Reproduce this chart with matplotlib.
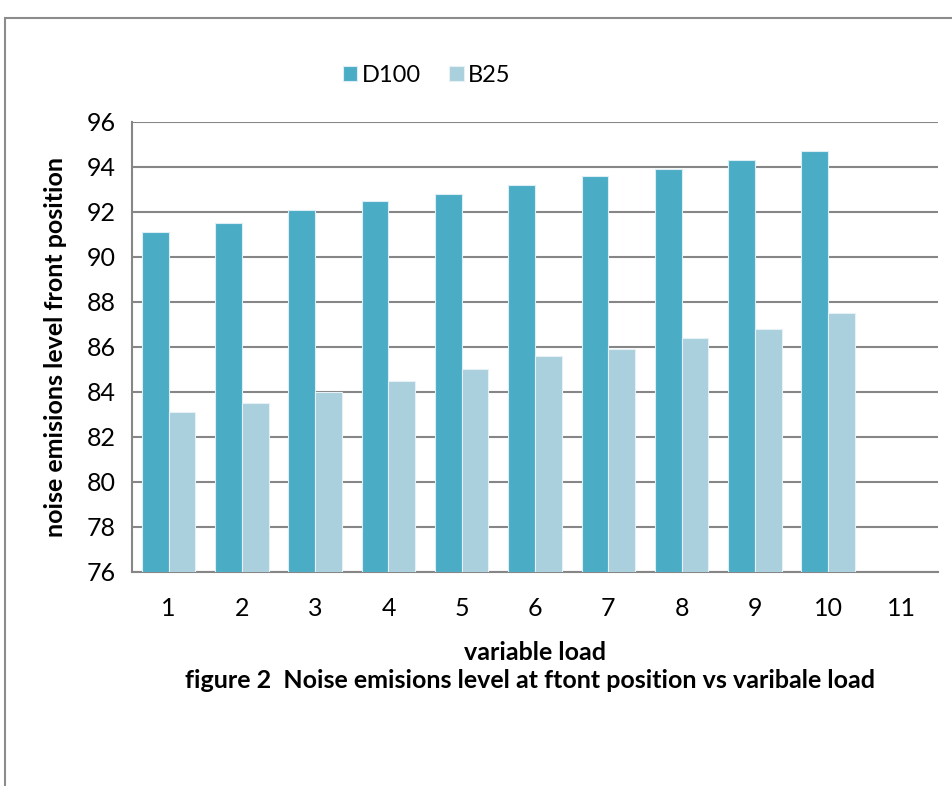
import numpy as np
import matplotlib
matplotlib.use("Agg")
from matplotlib import pylab as plt
from matplotlib.patches import Rectangle

plt.rcParams['font.family'] = ['Lato', 'DejaVu Sans']

loads = [1, 2, 3, 4, 5, 6, 7, 8, 9, 10, 11]
d100 = [91.1, 91.5, 92.1, 92.5, 92.8, 93.2, 93.6, 93.9, 94.3, 94.7]
b25 = [83.1, 83.5, 84.0, 84.5, 85.0, 85.6, 85.9, 86.4, 86.8, 87.5]
yticks = [76, 78, 80, 82, 84, 86, 88, 90, 92, 94, 96]

fig = plt.figure(figsize=(9.52, 7.86), dpi=100)
ax = fig.add_axes([0.1387, 0.2723, 0.8466, 0.5725])

# outer chart frame (cut off on right / bottom like the screenshot)
fig.patches.append(Rectangle((5/952, -0.1), 1.2, 1 - 18/786 + 0.1, transform=fig.transFigure,
                             fill=False, edgecolor='#8c8c8c', linewidth=1.5))

w = 0.365
x = np.arange(len(d100))
base = 76
ax.bar(x - w/2, np.array(d100) - base, w, bottom=base, color='#4bacc6', edgecolor='#dcedf3',
       linewidth=0.8, label='D100', zorder=3)
ax.bar(x + w/2, np.array(b25) - base, w, bottom=base, color='#aacfdd', edgecolor='#e6f1f5',
       linewidth=0.8, label='B25', zorder=3)

ax.set_xlim(-0.5, len(loads) - 0.5)
ax.set_ylim(76, 96)
ax.set_yticks(yticks)
ax.set_xticks(np.arange(len(loads)))
ax.set_xticklabels([str(v) for v in loads])
ax.yaxis.grid(True, color='#868686', linewidth=1.5, zorder=0)
ax.set_axisbelow(True)
for s in ['top', 'right']:
    ax.spines[s].set_visible(False)
for s in ['left', 'bottom']:
    ax.spines[s].set_color('#868686')
    ax.spines[s].set_linewidth(1.5)
ax.tick_params(axis='both', length=0, labelsize=18)
ax.tick_params(axis='x', pad=18)
ax.tick_params(axis='y', pad=12)

ax.set_ylabel('noise emisions level front position', fontsize=18, fontweight='bold', labelpad=14)
ax.set_xlabel('variable load', fontsize=18, fontweight='bold', labelpad=15)
fig.text(0.5567, 1 - 680/786, 'figure 2  Noise emisions level at ftont position vs varibale load',
         ha='center', va='center', fontsize=18, fontweight='bold')

leg = ax.legend(loc='center', bbox_to_anchor=(427/952, 1 - 75/786), bbox_transform=fig.transFigure,
                ncol=2, frameon=False, fontsize=17, handlelength=0.6, handleheight=0.6,
                handletextpad=0.2, columnspacing=1.2)

fig.savefig('out.png', dpi=100)
